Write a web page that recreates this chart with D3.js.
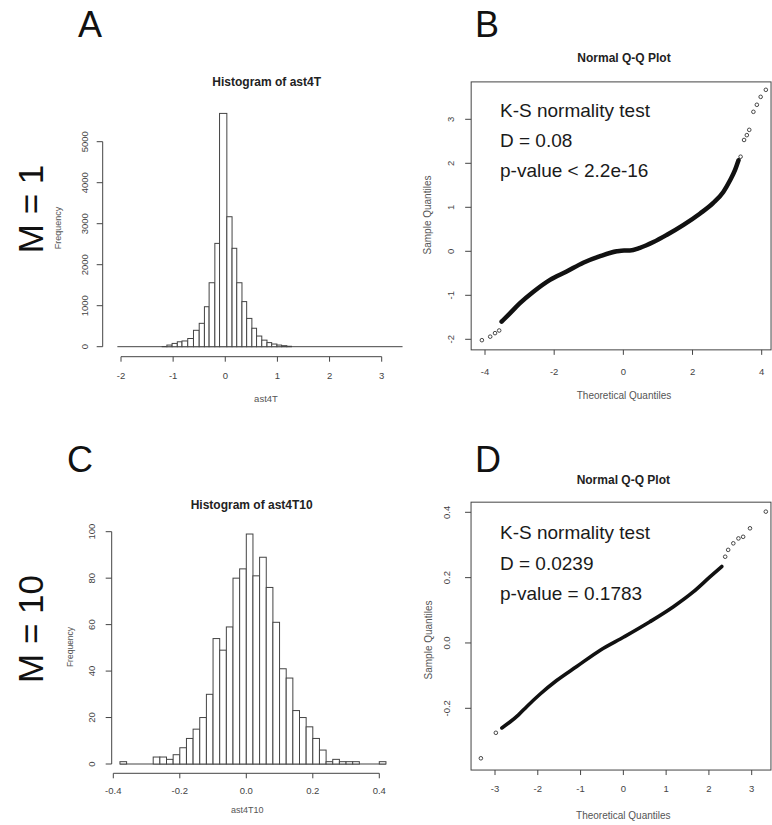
<!DOCTYPE html>
<html><head><meta charset="utf-8">
<script src="https://cdn.jsdelivr.net/npm/d3@7/dist/d3.min.js"></script>
<style>
body{margin:0;background:#fff}
svg{display:block}
text{font-family:"Liberation Sans",Arial,Helvetica,sans-serif}
</style>
</head><body>
<svg id="c" width="772" height="825"></svg>
<script>
// ---------------- DATA ----------------
// Panel A: histogram of ast4T (bin edges + counts), zero-count range drawn as baseline
const histA_edges  = [-1.21,-1.12,-1.02,-0.92,-0.83,-0.72,-0.61,-0.50,-0.40,-0.31,-0.20,-0.11,0.03,0.13,0.22,0.32,0.41,0.51,0.60,0.70,0.80,0.89,0.99,1.08,1.18,1.27];
const histA_counts = [5,40,80,120,140,200,400,570,975,1560,2520,5690,3170,2400,1560,1100,690,450,260,160,100,65,40,25,10];
const histA_range  = [-2.07, 3.4];
const histA_xticks = [-2,-1,0,1,2,3];
const histA_yticks = [0,1000,2000,3000,4000,5000];

// Panel C: histogram of ast4T10
const histC_binStart = [-0.38,-0.36,-0.34,-0.32,-0.30,-0.28,-0.26,-0.24,-0.22,-0.20,-0.18,-0.16,-0.14,-0.12,-0.10,-0.08,-0.06,-0.04,-0.02,0.00,0.02,0.04,0.06,0.08,0.10,0.12,0.14,0.16,0.18,0.20,0.22,0.24,0.26,0.28,0.30,0.32,0.34,0.36,0.38,0.40];
const histC_counts   = [1,0,0,0,0,3,3,2,4,7,11,15,20,30,54,49,59,80,84,99,81,89,76,61,41,37,23,20,16,11,6,1,2,1,1,1,0,0,0,1];
const histC_binWidth = 0.02;
const histC_xticks = [-0.4,-0.2,0.0,0.2,0.4];
const histC_xlabels = ["-0.4","-0.2","0.0","0.2","0.4"];
const histC_yticks = [0,20,40,60,80,100];

// Panel B: Normal Q-Q plot (M = 1)
const qqB_dense_theo   = [-3.52,-3.28,-2.99,-2.60,-2.12,-1.64,-1.16,-0.67,-0.19,0.02,0.19,0.48,0.87,1.25,1.74,2.22,2.60,2.89,3.09,3.23,3.33];
const qqB_dense_sample = [-1.60,-1.41,-1.18,-0.92,-0.65,-0.46,-0.26,-0.11,0.00,0.02,0.02,0.08,0.21,0.37,0.60,0.86,1.10,1.35,1.62,1.85,2.07];
const qqB_tail_theo    = [-4.09,-3.85,-3.71,-3.59,3.39,3.49,3.57,3.64,3.76,3.86,3.97,4.12];
const qqB_tail_sample  = [-2.02,-1.94,-1.86,-1.80,2.15,2.53,2.64,2.76,3.17,3.33,3.51,3.67];
const qqB_xticks = [-4,-2,0,2,4];
const qqB_yticks = [-2,-1,0,1,2,3];
const qqB_text = ["K-S normality test","D = 0.08","p-value < 2.2e-16"];

// Panel D: Normal Q-Q plot (M = 10)
const qqD_dense_theo   = [-2.84,-2.65,-2.45,-2.26,-1.95,-1.56,-1.09,-0.54,0.02,0.62,1.17,1.64,2.03,2.30];
const qqD_dense_sample = [-0.260,-0.242,-0.220,-0.195,-0.157,-0.115,-0.072,-0.022,0.019,0.065,0.111,0.157,0.203,0.234];
const qqD_tail_theo    = [-3.33,-2.98,2.38,2.45,2.57,2.69,2.80,2.96,3.33];
const qqD_tail_sample  = [-0.353,-0.275,0.264,0.285,0.305,0.320,0.325,0.351,0.402];
const qqD_xticks = [-3,-2,-1,0,1,2,3];
const qqD_yticks = [-0.2,0.0,0.2,0.4];
const qqD_ylabels = ["-0.2","0.0","0.2","0.4"];
const qqD_text = ["K-S normality test","D = 0.0239","p-value = 0.1783"];

// ---------------- DRAW ----------------
const svg = d3.select("#c");
const AX = "#444", TXT = "#444";
const TICK_FS = 9.5;

function axisBottom(g, x, ticks, labels, yLine, labelBase){
  g.append("line").attr("x1", x(ticks[0])).attr("x2", x(ticks[ticks.length-1]))
    .attr("y1", yLine).attr("y2", yLine).attr("stroke", AX).attr("stroke-width", 1);
  ticks.forEach((t,i)=>{
    g.append("line").attr("x1", x(t)).attr("x2", x(t)).attr("y1", yLine).attr("y2", yLine+5)
      .attr("stroke", AX).attr("stroke-width", 1);
    g.append("text").attr("x", x(t)).attr("y", labelBase).attr("text-anchor","middle")
      .attr("font-size", TICK_FS).attr("fill", TXT).text(labels ? labels[i] : String(t));
  });
}
function axisLeft(g, y, ticks, labels, xLine, labelBase){
  g.append("line").attr("x1", xLine).attr("x2", xLine)
    .attr("y1", y(ticks[0])).attr("y2", y(ticks[ticks.length-1])).attr("stroke", AX).attr("stroke-width", 1);
  ticks.forEach((t,i)=>{
    g.append("line").attr("x1", xLine-6).attr("x2", xLine).attr("y1", y(t)).attr("y2", y(t))
      .attr("stroke", AX).attr("stroke-width", 1);
    g.append("text").attr("transform", `translate(${labelBase},${y(t)}) rotate(-90)`)
      .attr("text-anchor","middle").attr("font-size", TICK_FS).attr("fill", TXT)
      .text(labels ? labels[i] : String(t));
  });
}
function title(g, txt, cx, base){
  g.append("text").attr("x", cx).attr("y", base).attr("text-anchor","middle")
    .attr("font-size", 12).attr("font-weight","bold").attr("fill","#222").text(txt);
}
function xTitle(g, txt, cx, base, fs){
  g.append("text").attr("x", cx).attr("y", base).attr("text-anchor","middle")
    .attr("font-size", fs).attr("fill", "#555").text(txt);
}
function yTitle(g, txt, bx, cy, fs){
  g.append("text").attr("transform", `translate(${bx},${cy}) rotate(-90)`).attr("text-anchor","middle")
    .attr("font-size", fs).attr("fill", "#555").text(txt);
}

// ---- Panel A ----
{
  const g = svg.append("g");
  const x = d3.scaleLinear().domain([-2,3]).range([121,381.7]);
  const y = d3.scaleLinear().domain([0,5000]).range([346.7,141.7]);
  // zero-count bins as baseline
  g.append("line").attr("x1", x(histA_range[0])).attr("x2", x(histA_range[1]))
    .attr("y1", y(0)).attr("y2", y(0)).attr("stroke", AX).attr("stroke-width", 1);
  const bins = histA_counts.map((c,i)=>({x0:histA_edges[i], x1:histA_edges[i+1], c}));
  g.selectAll("rect.a").data(bins).enter().append("rect")
    .attr("x", d=>x(d.x0)).attr("width", d=>x(d.x1)-x(d.x0))
    .attr("y", d=>y(d.c)).attr("height", d=>y(0)-y(d.c))
    .attr("fill","#fff").attr("stroke", AX).attr("stroke-width", 1);
  axisBottom(g, x, histA_xticks, null, 356.7, 378.5);
  axisLeft(g, y, histA_yticks, null, 102.7, 87.5);
  title(g, "Histogram of ast4T", 266.7, 86);
  xTitle(g, "ast4T", 266, 401.5, 9.5);
  yTitle(g, "Frequency", 61, 228, 9);
}

// ---- Panel C ----
{
  const g = svg.append("g");
  const x = d3.scaleLinear().domain([-0.4,0.4]).range([113.3,379.3]);
  const y = d3.scaleLinear().domain([0,100]).range([764,531.7]);
  const bins = histC_counts.map((c,i)=>({x0:histC_binStart[i], x1:histC_binStart[i]+histC_binWidth, c}));
  // zero-count bins appear as a baseline across the full bin range
  g.append("line").attr("x1", x(bins[0].x0)).attr("x2", x(bins[bins.length-1].x1))
    .attr("y1", y(0)).attr("y2", y(0)).attr("stroke", AX).attr("stroke-width", 1);
  g.selectAll("rect.c").data(bins.filter(d=>d.c>0)).enter().append("rect")
    .attr("x", d=>x(d.x0)).attr("width", d=>x(d.x1)-x(d.x0))
    .attr("y", d=>y(d.c)).attr("height", d=>y(0)-y(d.c))
    .attr("fill","#fff").attr("stroke", AX).attr("stroke-width", 1);
  axisBottom(g, x, histC_xticks, histC_xlabels, 773.3, 793.5);
  axisLeft(g, y, histC_yticks, null, 111.7, 95);
  title(g, "Histogram of ast4T10", 251.7, 508.5);
  xTitle(g, "ast4T10", 247.3, 813, 9);
  yTitle(g, "Frequency", 73, 647, 8.5);
}

// ---- QQ panels ----
function qqPanel(opt){
  const g = svg.append("g");
  const x = d3.scaleLinear().domain(opt.xdom).range(opt.xr);
  const y = d3.scaleLinear().domain(opt.ydom).range(opt.yr);
  g.append("rect").attr("x", x(opt.xlim[0])).attr("y", y(opt.ylim[1]))
    .attr("width", x(opt.xlim[1])-x(opt.xlim[0])).attr("height", y(opt.ylim[0])-y(opt.ylim[1]))
    .attr("fill","none").attr("stroke", AX).attr("stroke-width", 1);
  const yb = y(opt.ylim[0]), xl = x(opt.xlim[0]);
  opt.xticks.forEach(t=>{
    g.append("line").attr("x1", x(t)).attr("x2", x(t)).attr("y1", yb).attr("y2", yb+5)
      .attr("stroke", AX).attr("stroke-width", 1);
    g.append("text").attr("x", x(t)).attr("y", opt.xLabBase).attr("text-anchor","middle")
      .attr("font-size", TICK_FS).attr("fill", TXT).text(String(t));
  });
  opt.yticks.forEach((t,i)=>{
    g.append("line").attr("x1", xl-6).attr("x2", xl).attr("y1", y(t)).attr("y2", y(t))
      .attr("stroke", AX).attr("stroke-width", 1);
    g.append("text").attr("transform", `translate(${opt.yLabBase},${y(t)}) rotate(-90)`)
      .attr("text-anchor","middle").attr("font-size", TICK_FS).attr("fill", TXT)
      .text(opt.ylabels ? opt.ylabels[i] : String(t));
  });
  const dense = opt.dt.map((t,i)=>[t, opt.ds[i]]);
  g.append("path").datum(dense)
    .attr("d", d3.line().x(d=>x(d[0])).y(d=>y(d[1])).curve(d3.curveMonotoneX))
    .attr("fill","none").attr("stroke","#111").attr("stroke-width", opt.bw)
    .attr("stroke-linecap","round").attr("stroke-linejoin","round");
  const tail = opt.tt.map((t,i)=>[t, opt.ts[i]]);
  g.selectAll("circle").data(tail).enter().append("circle")
    .attr("cx", d=>x(d[0])).attr("cy", d=>y(d[1])).attr("r", 1.8)
    .attr("fill","none").attr("stroke","#333").attr("stroke-width", 0.9);
  title(g, "Normal Q-Q Plot", opt.titleX, opt.titleBase);
  xTitle(g, "Theoretical Quantiles", opt.titleX, opt.xTitleBase, 10);
  yTitle(g, "Sample Quantiles", opt.yTitleBase, opt.yTitleCy, 10);
  opt.text.forEach((s,i)=>{
    g.append("text").attr("x", 500).attr("y", opt.textBase[i]).attr("font-size", 19)
      .attr("fill","#1a1a1a").text(s);
  });
}

qqPanel({xdom:[-4,4], xr:[485,761.7], ydom:[-2,3], yr:[339.3,119.3],
  xlim:[-4.4,4.27], ylim:[-2.24,3.85],
  xticks:qqB_xticks, yticks:qqB_yticks, ylabels:null,
  xLabBase:375, yLabBase:453.5,
  dt:qqB_dense_theo, ds:qqB_dense_sample, tt:qqB_tail_theo, ts:qqB_tail_sample, bw:4.5,
  titleX:624, titleBase:62, xTitleBase:398.5, yTitleBase:431, yTitleCy:215,
  text:qqB_text, textBase:[117,147,177]});

qqPanel({xdom:[-3,3], xr:[495,751.7], ydom:[-0.2,0.4], yr:[708.3,512.3],
  xlim:[-3.56,3.45], ylim:[-0.389,0.431],
  xticks:qqD_xticks, yticks:qqD_yticks, ylabels:qqD_ylabels,
  xLabBase:791.5, yLabBase:450,
  dt:qqD_dense_theo, ds:qqD_dense_sample, tt:qqD_tail_theo, ts:qqD_tail_sample, bw:3.6,
  titleX:623.3, titleBase:483.5, xTitleBase:818.5, yTitleBase:431.5, yTitleCy:640,
  text:qqD_text, textBase:[539,570,600]});

// ---- Panel letters and row labels ----
const big = [["A",78,36.7],["B",475,37],["C",67,471.7],["D",475,471.7]];
big.forEach(b=>svg.append("text").attr("x",b[1]).attr("y",b[2]).attr("font-size",36)
  .attr("fill","#111").text(b[0]));
[["M = 1",209],["M = 10",629]].forEach(m=>{
  svg.append("text").attr("transform",`translate(43,${m[1]}) rotate(-90)`).attr("text-anchor","middle")
    .attr("font-size",35).attr("fill","#111").text(m[0]);
});
</script>
</body></html>
